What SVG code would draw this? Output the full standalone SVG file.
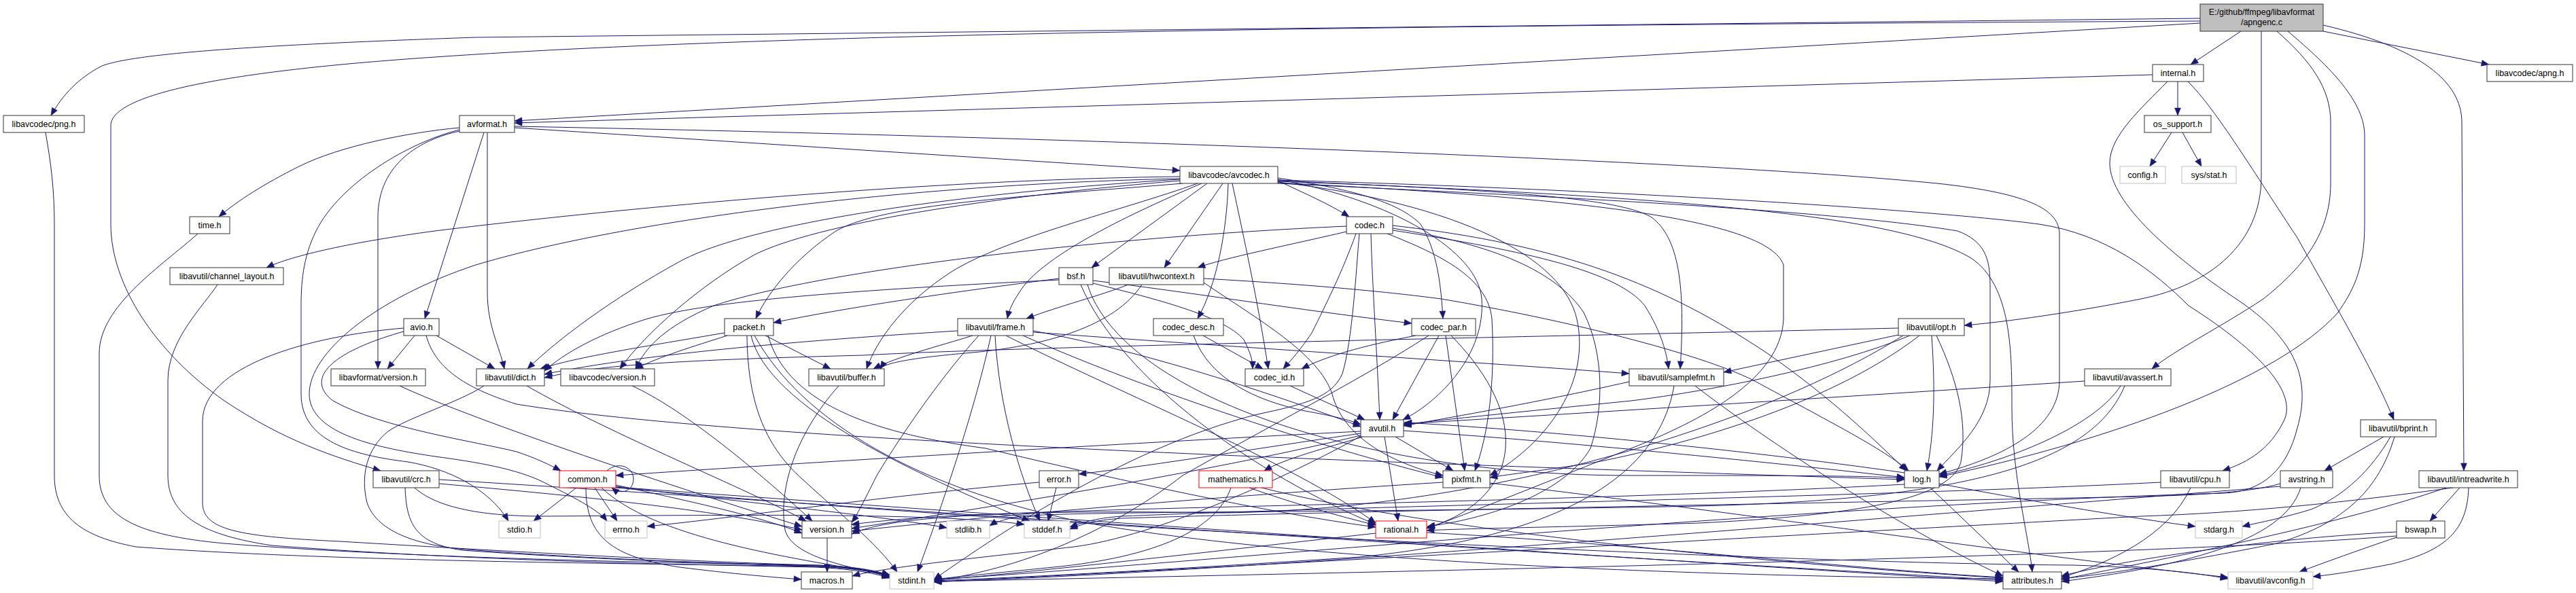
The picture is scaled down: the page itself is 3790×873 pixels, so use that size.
<svg xmlns="http://www.w3.org/2000/svg" width="3790" height="873" viewBox="0 0 3790 873">
<style>
.e path{fill:none;stroke:#191970;stroke-width:1;marker-end:url(#ah)}
.n rect{fill:#fff;stroke:#333;stroke-width:1}
.n.g rect{stroke:#bfbfbf}
.n.r rect{stroke:#ff0000}
.n.m rect{fill:#bfbfbf;stroke:#333}
.n text{font-family:"Liberation Sans",Arial,sans-serif;font-size:12.5px;fill:#000;text-anchor:middle}
</style>
<defs>
<marker id="ah" markerWidth="12" markerHeight="9" refX="11" refY="4.5" orient="auto" markerUnits="userSpaceOnUse" overflow="visible">
<path d="M0,0 L11,4.5 L0,9 z" fill="#191970" stroke="#191970" stroke-width="0.5"/>
</marker>
</defs>
<rect width="3790" height="873" fill="#fff"/>
<g id="connectors" class="e">
<path d="M3237,27 L700,55 C320,68 190,82 150,97 C115,115 92,140 75,170"/>
<path d="M3237,31 C2200,37 1200,45 640,84 C400,100 163,130 163,185 L163,330 C163,420 230,520 330,590 C420,650 490,672 560,693"/>
<path d="M3237,34 L757,178"/>
<path d="M3297,46 L3223,95"/>
<path d="M3327,46 L3327,260 C3327,360 3250,420 3150,440 C3050,460 2950,474 2890,479"/>
<path d="M3350,46 C3400,90 3429,130 3429,180 L3429,270 C3429,350 3380,400 3330,440 C3270,480 3200,515 3166,543"/>
<path d="M3366,46 C3430,100 3479,150 3479,200 L3479,330 C3479,400 3460,430 3440,460 C3350,560 3100,650 2853,702"/>
<path d="M3418,37 C3560,70 3622,120 3622,180 L3625,693"/>
<path d="M3418,46 L3662,95"/>
<path d="M3167,110 L757,181"/>
<path d="M3204,120 L3204,170"/>
<path d="M3219,120 C3260,160 3320,260 3380,350 C3430,440 3490,540 3522,618"/>
<path d="M3189,120 C3150,160 3104,200 3104,240 C3104,300 3200,380 3290,440 C3380,500 3400,560 3380,630 C3365,690 3330,724 3272,726 C2600,745 1700,835 1374,853"/>
<path d="M3195,195 L3163,245"/>
<path d="M3211,195 L3239,245"/>
<path d="M676,188 C600,195 500,215 440,245 C390,270 350,295 322,319"/>
<path d="M757,188 L1736,251"/>
<path d="M757,186 C1500,200 2500,235 2850,270 C2990,285 3030,310 3030,345 L3030,560 C3030,630 2950,672 2853,698"/>
<path d="M712,195 L625,469"/>
<path d="M717,195 L717,430 C717,480 735,510 742,543"/>
<path d="M676,193 C620,205 556,240 556,320 L556,543"/>
<path d="M676,191 C600,210 500,270 465,340 C445,380 443,420 443,450 L443,580 C443,650 520,670 600,680 C660,690 720,720 748,767"/>
<path d="M67,195 C75,240 80,280 80,330 L80,700 C80,760 120,790 200,805 C500,828 1000,830 1200,834 C1260,836 1290,842 1309,849"/>
<path d="M291,344 C240,390 146,450 146,520 L146,700 C146,760 200,788 330,800 C600,822 1000,829 1200,832 C1260,834 1290,840 1309,847"/>
<path d="M320,419 C300,450 247,500 247,560 L247,700 C247,760 300,788 400,803 C700,826 1000,831 1200,835 C1260,838 1290,845 1309,851"/>
<path d="M1736,260 C1300,265 800,320 640,340 C520,356 430,376 392,394"/>
<path d="M1736,263 C1300,272 900,330 700,390 C550,440 455,520 455,580 C455,640 560,660 640,672 C700,680 760,690 800,710 C840,730 880,750 893,767"/>
<path d="M1736,264 C1400,285 1100,330 1000,385 C900,440 820,500 776,543"/>
<path d="M1736,266 C1450,290 1200,330 1110,375 C1030,420 950,490 912,543"/>
<path d="M1740,270 C1500,290 1300,300 1230,340 C1170,380 1130,430 1112,469"/>
<path d="M1776,270 L1606,394"/>
<path d="M1799,270 L1713,394"/>
<path d="M1768,270 C1650,320 1530,380 1500,430 C1490,445 1485,455 1482,469"/>
<path d="M1880,266 C1920,285 1955,300 1985,319"/>
<path d="M1807,270 C1805,340 1790,420 1762,469"/>
<path d="M1813,270 C1830,350 1850,440 1866,543"/>
<path d="M1880,262 C2000,280 2060,300 2090,330 C2115,370 2120,420 2123,469"/>
<path d="M1880,264 C2050,295 2175,370 2180,440 C2186,520 2120,590 2064,618"/>
<path d="M1880,268 C2150,300 2300,380 2320,470 C2340,560 2280,650 2192,700"/>
<path d="M1880,266 C2200,280 2380,290 2430,320 C2470,350 2480,420 2472,543"/>
<path d="M1880,269 C2300,290 2600,320 2624,390 L2624,470 C2620,560 2500,620 2400,660 C2250,720 2150,760 2099,778"/>
<path d="M1880,270 C2300,290 2700,310 2880,340 C2920,355 2928,380 2928,420 L2928,560 C2928,620 2880,660 2850,693"/>
<path d="M1880,265 C2400,280 2850,310 3000,330 C3100,345 3170,400 3220,450 C3330,520 3380,580 3360,620 C3340,660 3310,680 3270,693"/>
<path d="M1880,267 C2500,290 2800,320 2900,380 C2960,420 2960,520 2960,600 C2960,700 2985,790 2990,842"/>
<path d="M1762,270 C1650,310 1480,350 1400,400 C1330,445 1290,500 1275,543"/>
<path d="M1660,419 C1620,435 1560,450 1510,469"/>
<path d="M1680,419 C1640,480 1540,510 1420,520 C1340,527 1300,535 1295,543"/>
<path d="M1771,410 C1950,420 2060,432 2120,440 C2300,470 2500,520 2580,560 C2690,620 2770,660 2808,693"/>
<path d="M1771,416 C1850,470 1940,520 1960,580 C1975,640 2040,680 2123,700"/>
<path d="M1558,410 C1400,430 1250,452 1138,475"/>
<path d="M1558,412 C1300,425 1050,440 950,470 C880,492 830,520 801,546"/>
<path d="M1608,417 C1700,440 1800,465 1830,500 C1840,520 1843,530 1843,543"/>
<path d="M1608,413 C1750,430 1900,455 2077,476"/>
<path d="M1600,419 C1650,580 2000,700 2400,700 C2600,700 2750,700 2802,704"/>
<path d="M1590,419 C1650,560 1850,700 2024,772"/>
<path d="M1981,341 C1900,360 1800,380 1762,394"/>
<path d="M1981,333 C1600,350 1200,400 1050,450 C980,480 950,510 935,543"/>
<path d="M2000,344 C1995,400 1990,500 1975,550 C1960,585 1920,595 1850,610 C1650,660 1450,800 1374,853"/>
<path d="M2017,344 C2019,420 2026,520 2030,618"/>
<path d="M2049,332 C2300,360 2450,420 2600,520 C2700,590 2760,650 2805,693"/>
<path d="M2041,344 C2120,375 2190,410 2195,470 C2200,560 2190,640 2170,693"/>
<path d="M2049,336 C2200,360 2290,400 2330,460 C2360,520 2360,600 2340,660 C2300,730 2180,765 2100,775"/>
<path d="M2049,339 C2250,370 2380,400 2420,450 C2445,490 2452,520 2455,543"/>
<path d="M1995,344 C1975,400 1950,450 1930,490 C1910,520 1895,535 1888,543"/>
<path d="M1770,494 L1858,543"/>
<path d="M1756,494 C1780,560 1850,590 1920,605 C1960,612 1985,618 2002,625"/>
<path d="M2083,494 C2000,510 1950,525 1915,543"/>
<path d="M2102,494 C2000,560 1880,620 1740,700 C1650,770 1520,835 1374,855"/>
<path d="M2117,494 L2049,618"/>
<path d="M2127,494 L2155,693"/>
<path d="M2135,494 C2180,540 2220,600 2215,660 C2210,720 2160,760 2099,777"/>
<path d="M1066,490 C950,510 850,525 795,543"/>
<path d="M1070,494 C1020,510 970,525 935,543"/>
<path d="M1126,494 L1222,543"/>
<path d="M1105,494 C1130,600 1350,700 1515,767"/>
<path d="M1099,494 C1100,600 1130,660 1180,705 C1240,760 1290,800 1320,842"/>
<path d="M1110,494 C1180,620 1350,720 1600,770 C2000,840 2700,850 2947,852"/>
<path d="M1130,494 C1160,600 1300,640 1450,660 C1700,720 1900,760 2024,776"/>
<path d="M1431,494 C1380,510 1320,525 1285,543"/>
<path d="M1409,487 C1200,500 950,520 801,551"/>
<path d="M1458,494 C1430,620 1380,760 1350,842"/>
<path d="M1464,494 C1470,600 1500,700 1530,767"/>
<path d="M1520,487 C1700,520 1900,590 2002,628"/>
<path d="M1440,494 C1380,560 1320,650 1290,700 C1270,740 1260,760 1253,769"/>
<path d="M1480,494 C1650,580 1900,680 2024,770"/>
<path d="M1520,489 C1800,510 2200,535 2397,550"/>
<path d="M1505,494 C1700,580 1950,660 2123,703"/>
<path d="M2793,483 C2300,495 1500,510 1270,523 C1000,530 880,537 801,556"/>
<path d="M2793,493 L2536,548"/>
<path d="M2810,494 C2700,540 2520,575 2400,590 C2250,605 2120,618 2065,625"/>
<path d="M2824,494 C2700,590 2500,650 2350,680 C2270,693 2220,698 2192,703"/>
<path d="M2842,494 C2848,580 2845,640 2835,693"/>
<path d="M2849,494 C2880,560 2895,620 2885,680 C2870,740 2700,760 2500,770 C2300,776 2150,778 2099,781"/>
<path d="M2800,494 C2600,620 2200,750 1800,755 C1500,750 1350,760 1253,772"/>
<path d="M610,494 L570,543"/>
<path d="M642,494 L728,543"/>
<path d="M594,483 C450,495 298,540 298,620 L298,740 C298,780 350,790 500,797 C800,815 1050,828 1200,832 C1260,834 1290,841 1309,848"/>
<path d="M594,488 C480,520 450,560 490,590 C560,630 700,650 760,665 C790,675 810,685 825,693"/>
<path d="M627,494 C640,540 680,570 760,595 C1100,650 2000,680 2802,706"/>
<path d="M588,568 C700,620 1000,720 1180,775"/>
<path d="M712,568 C680,590 600,615 571,635 C540,660 530,700 540,740 C555,785 620,805 700,810 C900,825 1100,830 1200,833 C1260,835 1290,842 1309,849"/>
<path d="M775,568 C900,640 1100,720 1186,767"/>
<path d="M930,568 C1000,600 1100,680 1195,767"/>
<path d="M1234,568 C1170,640 1145,720 1155,780 C1165,820 1250,835 1309,848"/>
<path d="M1898,568 L2008,618"/>
<path d="M2397,562 C2250,595 2130,615 2065,627"/>
<path d="M2463,568 C2440,700 2300,790 2000,820 C1700,840 1500,850 1374,855"/>
<path d="M2494,568 C2600,650 2800,780 2947,848"/>
<path d="M3067,561 C2700,585 2300,610 2065,624"/>
<path d="M3120,568 C3080,630 2950,680 2853,700"/>
<path d="M3126,568 C3080,680 2900,735 2500,745 C2000,755 1600,752 1500,760 C1475,765 1462,770 1456,774"/>
<path d="M2037,643 L2057,767"/>
<path d="M2053,643 L2138,693"/>
<path d="M2002,635 C1700,650 1200,680 906,700"/>
<path d="M2002,638 C1850,660 1700,685 1587,698"/>
<path d="M2005,643 C1950,660 1890,675 1860,693"/>
<path d="M2002,641 C1800,690 1500,740 1253,778"/>
<path d="M2002,642 C1900,700 1700,790 1580,805 C1450,820 1300,835 1254,848"/>
<path d="M2065,634 C2300,650 2600,680 2802,703"/>
<path d="M2802,696 C2550,660 2250,632 2066,622"/>
<path d="M2840,718 L2970,842"/>
<path d="M2853,712 C3000,740 3150,765 3230,775"/>
<path d="M2802,713 C2400,735 1800,745 1600,752 C1400,758 1300,765 1253,786"/>
<path d="M3507,643 L3420,693"/>
<path d="M3517,643 C3490,690 3450,730 3400,750 C3350,765 3320,770 3299,775"/>
<path d="M3523,643 C3500,720 3450,770 3350,800 C3200,830 3100,845 3033,852"/>
<path d="M596,718 C598,770 610,800 680,810 C900,826 1100,830 1200,834 C1260,836 1290,843 1309,850"/>
<path d="M610,718 C640,745 700,760 800,760 C1100,758 1380,755 1507,772"/>
<path d="M646,706 C1200,740 2000,800 2947,854"/>
<path d="M646,712 C850,730 1050,750 1180,780"/>
<path d="M848,718 L785,767"/>
<path d="M875,718 L908,767"/>
<path d="M862,718 C862,790 900,820 1000,835 C1080,845 1140,850 1179,853"/>
<path d="M906,714 C1000,735 1120,760 1180,785"/>
<path d="M906,716 C1100,740 1300,760 1393,777"/>
<path d="M885,718 C960,790 1150,820 1309,846"/>
<path d="M906,717 C1500,760 2500,830 2947,856"/>
<path d="M906,718 C1700,790 2700,830 3050,832 C3180,836 3240,845 3278,852"/>
<path d="M893,693 C910,678 932,688 932,705 C932,722 915,730 900,718"/>
<path d="M1529,710 C1300,730 1100,760 952,775"/>
<path d="M1554,718 L1542,767"/>
<path d="M1811,718 C1790,780 1700,820 1550,835 C1450,845 1400,850 1374,853"/>
<path d="M1838,718 C1900,740 1970,760 2024,773"/>
<path d="M1856,718 C2100,780 2600,830 2947,851"/>
<path d="M2123,710 C1800,730 1450,760 1253,782"/>
<path d="M2192,711 C2600,760 3000,820 3278,850"/>
<path d="M3179,710 C2800,730 2000,745 1650,760 C1610,763 1590,770 1574,776"/>
<path d="M3223,718 C3190,790 3100,830 3033,850"/>
<path d="M3355,712 C3300,728 3200,730 3100,732 C2600,742 2000,752 1650,763 C1610,766 1590,772 1574,779"/>
<path d="M3355,716 C2800,760 1800,845 1374,856"/>
<path d="M3385,718 C3360,800 3200,835 3033,856"/>
<path d="M3619,718 L3575,767"/>
<path d="M3632,718 C3630,780 3600,810 3520,830 C3460,842 3430,846 3403,849"/>
<path d="M3599,718 C3450,770 3200,820 3033,853"/>
<path d="M3609,718 C3450,740 3300,755 3150,760 C2600,790 1800,835 1374,857"/>
<path d="M3526,791 C3470,810 3420,828 3383,842"/>
<path d="M3526,783 C3300,795 3100,830 3033,848"/>
<path d="M3526,789 C3200,815 2400,835 1374,856"/>
<path d="M2024,785 C1800,810 1500,845 1374,854"/>
<path d="M2099,784 C2400,800 2750,840 2947,850"/>
<path d="M1217,792 L1217,842"/>
</g>
<g id="n_apngenc" class="n m"><rect x="3237" y="6" width="181" height="40"/><text x="3327.5" y="21.5">E:/github/ffmpeg/libavformat</text><text x="3327.5" y="36.5">/apngenc.c</text></g>
<g id="n_internal" class="n"><rect x="3167" y="95" width="75" height="25"/><text x="3204.5" y="112">internal.h</text></g>
<g id="n_apng" class="n"><rect x="3659" y="95" width="126" height="25"/><text x="3722" y="112">libavcodec/apng.h</text></g>
<g id="n_png" class="n"><rect x="5" y="170" width="119" height="25"/><text x="64.5" y="187">libavcodec/png.h</text></g>
<g id="n_avformat" class="n"><rect x="676" y="170" width="81" height="25"/><text x="716.5" y="187">avformat.h</text></g>
<g id="n_os_support" class="n"><rect x="3155" y="170" width="98" height="25"/><text x="3204" y="187">os_support.h</text></g>
<g id="n_avcodec" class="n"><rect x="1736" y="245" width="144" height="25"/><text x="1808" y="262">libavcodec/avcodec.h</text></g>
<g id="n_config" class="n g"><rect x="3119" y="245" width="67" height="25"/><text x="3152.5" y="262">config.h</text></g>
<g id="n_sysstat" class="n g"><rect x="3210" y="245" width="80" height="25"/><text x="3250" y="262">sys/stat.h</text></g>
<g id="n_time" class="n"><rect x="279" y="319" width="59" height="25"/><text x="308.5" y="336">time.h</text></g>
<g id="n_codec" class="n"><rect x="1981" y="319" width="68" height="25"/><text x="2015" y="336">codec.h</text></g>
<g id="n_channel_layout" class="n"><rect x="250" y="394" width="167" height="25"/><text x="333.5" y="411">libavutil/channel_layout.h</text></g>
<g id="n_bsf" class="n"><rect x="1558" y="394" width="50" height="25"/><text x="1583" y="411">bsf.h</text></g>
<g id="n_hwcontext" class="n"><rect x="1632" y="394" width="139" height="25"/><text x="1701.5" y="411">libavutil/hwcontext.h</text></g>
<g id="n_avio" class="n"><rect x="594" y="469" width="52" height="25"/><text x="620" y="486">avio.h</text></g>
<g id="n_packet" class="n"><rect x="1066" y="469" width="72" height="25"/><text x="1102" y="486">packet.h</text></g>
<g id="n_frame" class="n"><rect x="1409" y="469" width="111" height="25"/><text x="1464.5" y="486">libavutil/frame.h</text></g>
<g id="n_codec_desc" class="n"><rect x="1697" y="469" width="103" height="25"/><text x="1748.5" y="486">codec_desc.h</text></g>
<g id="n_codec_par" class="n"><rect x="2077" y="469" width="94" height="25"/><text x="2124" y="486">codec_par.h</text></g>
<g id="n_opt" class="n"><rect x="2793" y="469" width="97" height="25"/><text x="2841.5" y="486">libavutil/opt.h</text></g>
<g id="n_lavf_version" class="n"><rect x="487" y="543" width="139" height="25"/><text x="556.5" y="560">libavformat/version.h</text></g>
<g id="n_dict" class="n"><rect x="701" y="543" width="100" height="25"/><text x="751" y="560">libavutil/dict.h</text></g>
<g id="n_lavc_version" class="n"><rect x="825" y="543" width="138" height="25"/><text x="894" y="560">libavcodec/version.h</text></g>
<g id="n_buffer" class="n"><rect x="1190" y="543" width="111" height="25"/><text x="1245.5" y="560">libavutil/buffer.h</text></g>
<g id="n_codec_id" class="n"><rect x="1832" y="543" width="86" height="25"/><text x="1875" y="560">codec_id.h</text></g>
<g id="n_samplefmt" class="n"><rect x="2397" y="543" width="139" height="25"/><text x="2466.5" y="560">libavutil/samplefmt.h</text></g>
<g id="n_avassert" class="n"><rect x="3067" y="543" width="127" height="25"/><text x="3130.5" y="560">libavutil/avassert.h</text></g>
<g id="n_avutil" class="n"><rect x="2002" y="618" width="63" height="25"/><text x="2033.5" y="635">avutil.h</text></g>
<g id="n_bprint" class="n"><rect x="3473" y="618" width="111" height="25"/><text x="3528.5" y="635">libavutil/bprint.h</text></g>
<g id="n_crc" class="n"><rect x="549" y="693" width="97" height="25"/><text x="597.5" y="710">libavutil/crc.h</text></g>
<g id="n_common" class="n r"><rect x="823" y="693" width="83" height="25"/><text x="864.5" y="710">common.h</text></g>
<g id="n_error" class="n"><rect x="1529" y="693" width="58" height="25"/><text x="1558" y="710">error.h</text></g>
<g id="n_mathematics" class="n r"><rect x="1764" y="693" width="108" height="25"/><text x="1818" y="710">mathematics.h</text></g>
<g id="n_pixfmt" class="n"><rect x="2123" y="693" width="69" height="25"/><text x="2157.5" y="710">pixfmt.h</text></g>
<g id="n_log" class="n"><rect x="2802" y="693" width="51" height="25"/><text x="2827.5" y="710">log.h</text></g>
<g id="n_cpu" class="n"><rect x="3179" y="693" width="101" height="25"/><text x="3229.5" y="710">libavutil/cpu.h</text></g>
<g id="n_avstring" class="n"><rect x="3355" y="693" width="77" height="25"/><text x="3393.5" y="710">avstring.h</text></g>
<g id="n_intreadwrite" class="n"><rect x="3559" y="693" width="145" height="25"/><text x="3631.5" y="710">libavutil/intreadwrite.h</text></g>
<g id="n_stdio" class="n g"><rect x="734" y="767" width="61" height="25"/><text x="764.5" y="784">stdio.h</text></g>
<g id="n_errno" class="n g"><rect x="890" y="767" width="62" height="25"/><text x="921" y="784">errno.h</text></g>
<g id="n_version" class="n"><rect x="1180" y="767" width="73" height="25"/><text x="1216.5" y="784">version.h</text></g>
<g id="n_stdlib" class="n g"><rect x="1393" y="767" width="63" height="25"/><text x="1424.5" y="784">stdlib.h</text></g>
<g id="n_stddef" class="n g"><rect x="1507" y="767" width="67" height="25"/><text x="1540.5" y="784">stddef.h</text></g>
<g id="n_rational" class="n r"><rect x="2024" y="767" width="75" height="25"/><text x="2061.5" y="784">rational.h</text></g>
<g id="n_stdarg" class="n g"><rect x="3230" y="767" width="69" height="25"/><text x="3264.5" y="784">stdarg.h</text></g>
<g id="n_bswap" class="n"><rect x="3526" y="767" width="71" height="25"/><text x="3561.5" y="784">bswap.h</text></g>
<g id="n_macros" class="n"><rect x="1179" y="842" width="75" height="25"/><text x="1216.5" y="859">macros.h</text></g>
<g id="n_stdint" class="n g"><rect x="1309" y="842" width="65" height="25"/><text x="1341.5" y="859">stdint.h</text></g>
<g id="n_attributes" class="n"><rect x="2947" y="842" width="86" height="25"/><text x="2990" y="859">attributes.h</text></g>
<g id="n_avconfig" class="n g"><rect x="3278" y="842" width="125" height="25"/><text x="3340.5" y="859">libavutil/avconfig.h</text></g>
</svg>
